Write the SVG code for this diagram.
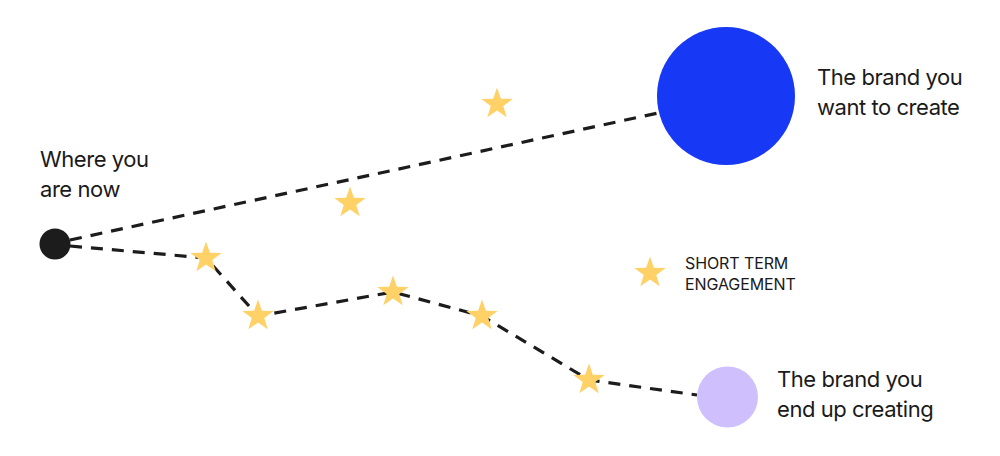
<svg xmlns="http://www.w3.org/2000/svg" width="1000" height="456" viewBox="0 0 1000 456">
<style>
.dash{fill:none;stroke:#1c1c1c;stroke-width:3.2;stroke-dasharray:12 9}
.star{fill:#FFD166}
.lbl{font-family:Inter,"Liberation Sans",sans-serif;font-size:22px;fill:#1a1a1a;letter-spacing:-0.45px}
.small{font-family:Inter,"Liberation Sans",sans-serif;font-size:16px;fill:#1a1a1a;letter-spacing:-0.1px}
</style>
<defs>
<polygon id="st" points="0,-16.5 3.88,-5.34 15.69,-5.1 6.28,2.04 9.7,13.35 0,6.6 -9.7,13.35 -6.28,2.04 -15.69,-5.1 -3.88,-5.34"/>
</defs>
<rect width="1000" height="456" fill="#fff"/>
<g id="connectors">
<path class="dash" d="M70,240 L658,113"/>
<path class="dash" d="M70,246 L206,258 L258,316 L393,292 L482,316 L589,380 L697,395"/>
</g>
<g id="start">
<circle cx="55" cy="244" r="15.5" fill="#1c1c1c"/>
<text class="lbl" x="40" y="167">Where you</text>
<text class="lbl" x="40" y="197">are now</text>
</g>
<g id="target">
<circle cx="726" cy="96" r="69" fill="#1738F5"/>
<text class="lbl" x="817" y="85">The brand you</text>
<text class="lbl" x="817" y="115">want to create</text>
</g>
<g id="actual">
<circle cx="727.5" cy="397" r="30.5" fill="#D0BFFD"/>
<text class="lbl" x="777" y="387">The brand you</text>
<text class="lbl" x="777" y="417">end up creating</text>
</g>
<g id="stars">
<use href="#st" class="star" x="206" y="258"/>
<use href="#st" class="star" x="258" y="316"/>
<use href="#st" class="star" x="393" y="292"/>
<use href="#st" class="star" x="482" y="316"/>
<use href="#st" class="star" x="589" y="380"/>
<use href="#st" class="star" x="497" y="104"/>
<use href="#st" class="star" x="350" y="203"/>
</g>
<g id="legend">
<use href="#st" class="star" x="650" y="273"/>
<text class="small" x="685" y="269">SHORT TERM</text>
<text class="small" x="685" y="290">ENGAGEMENT</text>
</g>
</svg>
